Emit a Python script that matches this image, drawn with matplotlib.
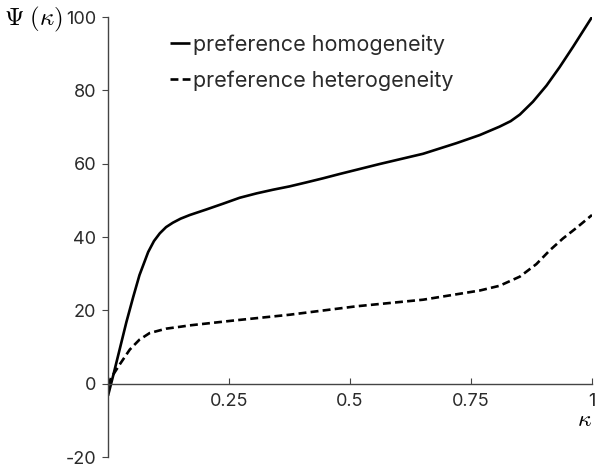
import matplotlib
matplotlib.use("Agg")
import matplotlib.pyplot as plt

plt.rcParams['font.family'] = ['Inter', 'DejaVu Sans']
plt.rcParams['mathtext.fontset'] = 'cm'
plt.rcParams['axes.unicode_minus'] = False

kappa_hom = [0.0, 0.0103, 0.024, 0.038, 0.052, 0.065, 0.083, 0.095, 0.107, 0.12, 0.134,
             0.15, 0.169, 0.203, 0.238, 0.272, 0.307, 0.341, 0.375, 0.41, 0.444, 0.479,
             0.561, 0.651, 0.72, 0.768, 0.809, 0.832, 0.851, 0.878, 0.906, 0.933, 0.961, 1.0]
psi_hom = [-3.3, 2.0, 9.3, 16.8, 23.6, 29.6, 35.9, 38.9, 41.0, 42.7, 43.9,
           45.0, 46.0, 47.5, 49.1, 50.7, 51.9, 52.9, 53.8, 54.9, 56.0, 57.2,
           59.9, 62.7, 65.6, 67.8, 70.1, 71.6, 73.4, 76.9, 81.3, 86.3, 91.9, 100.0]

kappa_het = [0.0, 0.006, 0.024, 0.045, 0.065, 0.086, 0.12, 0.148, 0.169, 0.258, 0.375,
             0.513, 0.651, 0.768, 0.809, 0.851, 0.885, 0.913, 0.94, 0.968, 1.0]
psi_het = [-0.5, 1.5, 5.2, 9.3, 12.0, 13.8, 15.0, 15.5, 15.9, 17.2, 18.8,
           21.1, 22.9, 25.4, 26.7, 29.2, 32.6, 36.4, 39.6, 42.5, 46.0]

xticks = [0.25, 0.5, 0.75, 1.0]
xticklabels = ['0.25', '0.5', '0.75', '1']
yticks = [-20, 0, 20, 40, 60, 80, 100]

text_color = '#2a2a2a'
axis_color = '#444444'

fig = plt.figure(figsize=(5.99, 4.66), dpi=100)
ax = fig.add_axes([0.1803, 0.0193, 0.808, 0.9442])

ax.plot(kappa_hom, psi_hom, color='black', lw=1.9, solid_joinstyle='round',
        solid_capstyle='butt', label='preference homogeneity')
ax.plot(kappa_het, psi_het, color='black', lw=1.9, ls=(0, (3, 1.6)),
        label='preference heterogeneity')

ax.set_xlim(0, 1)
ax.set_ylim(-20, 100)
for s in ['top', 'right']:
    ax.spines[s].set_visible(False)
ax.spines['bottom'].set_position(('data', 0))
for s in ['left', 'bottom']:
    ax.spines[s].set_color(axis_color)
    ax.spines[s].set_linewidth(1.0)

ax.set_xticks(xticks)
ax.set_xticklabels(xticklabels)
ax.set_yticks(yticks)
ax.tick_params(axis='x', direction='in', length=4, pad=7, labelsize=13,
               color=axis_color, labelcolor=text_color)
ax.tick_params(axis='y', direction='out', length=4, pad=4.5, labelsize=13,
               color=axis_color, labelcolor=text_color)

fig.text(0.006, 0.958, r'$\Psi\;(\kappa)$', fontsize=18, ha='left', va='center')
fig.text(0.988, 0.099, r'$\kappa$', fontsize=17, ha='right', va='center')

leg = ax.legend(loc='upper left', bbox_to_anchor=(0.096, 0.995), frameon=False,
                fontsize=15.5, handlelength=0.95, handletextpad=0.12, labelspacing=0.72,
                borderpad=0.2)
for t in leg.get_texts():
    t.set_color(text_color)

fig.savefig('out.png', dpi=100)
